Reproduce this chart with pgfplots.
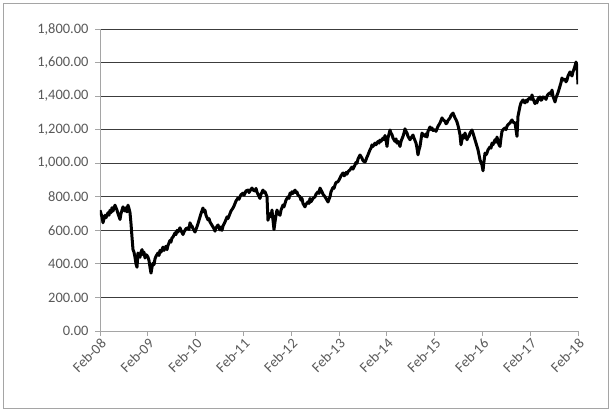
\documentclass[border=0pt]{standalone}
\usepackage{fontspec}
\setmainfont{Carlito}
\usepackage{pgfplots}
\usepackage{pgfplotstable}
\pgfplotsset{compat=1.18}
\definecolor{gridc}{RGB}{60,60,60}
\definecolor{axisc}{RGB}{165,165,165}
\definecolor{labc}{RGB}{89,89,89}

% pos = horizontal position (Feb-08 at 100, Feb-18 at 578)
\pgfplotstableread{
pos value
100 720
101 700
102 680
103 645
104 670
105 690
106 675
108 705
109 690
110 720
111 705
112 735
113 715
115 750
116 735
117 720
118 700
120 665
121 700
123 740
124 720
125 715
126 735
127 710
128 750
129 730
130 705
131 640
132 560
133 485
134 470
135 440
136 400
137 380
138 465
139 445
140 440
141 470
142 485
143 455
144 470
145 435
146 455
147 450
148 440
149 420
150 380
151 345
152 380
153 405
154 395
155 430
156 445
158 465
159 450
160 480
161 470
162 485
163 500
164 480
165 495
166 505
167 485
168 510
170 540
171 530
172 555
173 560
175 585
176 575
177 600
178 590
180 615
181 600
183 575
184 590
185 600
186 610
188 615
189 605
190 645
191 630
192 625
193 610
195 590
196 605
198 640
199 660
200 680
201 700
203 733
204 710
205 720
206 690
208 662
209 670
210 650
211 640
213 620
214 610
215 595
216 615
218 632
219 615
220 602
221 620
222 600
223 625
225 650
226 665
227 680
228 670
230 700
231 715
233 733
234 745
235 760
236 775
238 793
239 785
240 800
241 812
243 822
244 810
245 820
246 835
248 840
249 825
250 835
251 845
252 852
253 840
255 835
256 850
257 828
258 815
260 790
261 815
263 840
264 825
265 830
266 815
267 800
268 660
269 690
270 700
271 680
272 721
273 660
274 605
275 650
276 690
277 721
278 700
280 690
281 720
283 751
284 740
285 760
286 780
288 800
289 790
290 822
291 815
292 830
293 820
295 840
296 825
297 828
298 810
300 800
301 780
302 790
303 760
305 740
306 755
308 770
309 760
310 790
311 770
312 780
313 790
315 800
316 815
318 830
319 820
320 852
321 840
322 830
323 815
325 800
326 790
328 769
329 785
330 800
331 830
333 855
334 850
335 870
336 885
338 890
339 900
340 912
341 925
343 942
344 925
345 930
346 945
347 935
348 950
350 960
351 970
352 977
353 965
355 990
356 1005
357 1000
358 1025
360 1049
361 1040
362 1030
363 1015
365 1007
366 1020
367 1037
368 1050
370 1080
371 1090
372 1109
373 1100
375 1120
376 1110
378 1130
379 1120
380 1138
381 1130
383 1150
384 1140
385 1165
386 1140
387 1100
388 1150
390 1198
391 1180
392 1170
393 1150
395 1130
396 1145
397 1120
398 1130
400 1100
401 1130
403 1160
404 1180
405 1205
406 1190
407 1180
408 1160
410 1140
411 1150
413 1168
414 1150
416 1120
417 1090
418 1050
419 1080
420 1100
421 1140
422 1180
423 1170
425 1160
426 1175
427 1156
428 1190
430 1216
431 1200
432 1210
433 1195
435 1200
436 1190
437 1205
438 1220
440 1240
441 1255
442 1270
443 1260
445 1250
446 1235
447 1240
448 1255
450 1270
451 1285
453 1299
454 1285
455 1270
456 1260
457 1246
458 1225
459 1200
460 1170
461 1110
462 1140
463 1168
464 1150
465 1180
466 1160
467 1140
468 1155
469 1160
470 1180
472 1198
473 1180
474 1160
475 1140
476 1120
477 1100
478 1080
479 1050
480 1020
481 1005
482 990
483 955
484 1010
485 1060
486 1050
487 1061
488 1080
490 1097
491 1090
492 1120
493 1110
495 1140
496 1125
497 1156
498 1130
499 1110
500 1100
501 1150
502 1190
503 1200
505 1210
506 1200
507 1220
508 1230
510 1240
511 1250
512 1258
513 1245
515 1240
516 1200
517 1160
518 1280
519 1310
520 1340
521 1360
523 1377
524 1365
525 1360
526 1375
527 1365
528 1380
530 1390
531 1380
532 1407
533 1385
535 1355
536 1370
537 1360
538 1385
540 1395
541 1375
542 1380
543 1395
545 1390
546 1380
547 1400
548 1410
550 1420
551 1410
552 1436
553 1400
555 1365
556 1390
558 1420
559 1440
560 1460
561 1480
562 1508
563 1495
565 1500
566 1485
567 1496
568 1520
570 1544
571 1530
572 1520
573 1545
574 1560
575 1580
576 1603
577 1580
578 1470
}\series

\begin{document}
\begin{tikzpicture}
\useasboundingbox (-100bp,-81bp) rectangle (512bp,331bp);
\draw[axisc, line width=0.8bp] (-97bp,-77bp) rectangle (508bp,328bp);
\begin{axis}[
    at={(0,0)}, anchor=south west,
    scale only axis, width=478bp, height=302bp,
    xmin=2008, xmax=2018, ymin=0, ymax=1800,
    axis x line*=bottom, axis y line*=left,
    axis line style={axisc, line width=0.8bp, -},
    xtick={2008,...,2018},
    xticklabels={Feb-08,Feb-09,Feb-10,Feb-11,Feb-12,Feb-13,Feb-14,Feb-15,Feb-16,Feb-17,Feb-18},
    ytick={0,200,...,1800},
    ymajorgrids, grid style={gridc, line width=0.8bp},
    tick align=outside, major tick length=5bp,
    tick style={axisc, line width=0.8bp},
    ticklabel style={font=\fontsize{14.5}{16}\selectfont, text=labc},
    /pgf/number format/assume math mode=true,
    yticklabel style={xshift=-3bp, /pgf/number format/.cd, fixed, fixed zerofill, precision=2, 1000 sep={,}},
    x tick label style={rotate=45, anchor=north east, inner sep=1bp},
  ]
  \addplot[black, line width=3bp, line join=round]
    table[x expr={2008+(\thisrow{pos}-100)/47.8}, y=value] {\series};
\end{axis}
\end{tikzpicture}
\end{document}
